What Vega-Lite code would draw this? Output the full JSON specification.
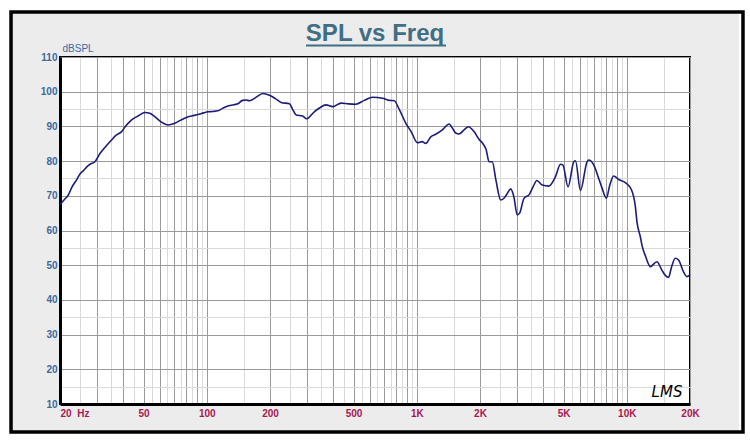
{
  "$schema": "https://vega.github.io/schema/vega-lite/v6.json",
  "width": 630,
  "height": 347,
  "autosize": {"type": "none"},
  "padding": {"left": 60, "top": 57, "right": 60, "bottom": 40},
  "background": "#ececec",
  "config": {"view": {"fill": "white", "stroke": "black", "strokeWidth": 2}},
  "datasets": {
    "spl": [
      {"freq": 20, "spl": 67.5}, {"freq": 20.9, "spl": 68.8}, {"freq": 21.9, "spl": 70.2}, {"freq": 22.8, "spl": 72.5},
      {"freq": 24.0, "spl": 74.6}, {"freq": 24.9, "spl": 76.3}, {"freq": 25.8, "spl": 77.2}, {"freq": 26.9, "spl": 78.4},
      {"freq": 27.8, "spl": 79.1}, {"freq": 29.3, "spl": 79.8}, {"freq": 31.0, "spl": 82.2}, {"freq": 33.1, "spl": 84.3},
      {"freq": 35.2, "spl": 86.1}, {"freq": 36.9, "spl": 87.4}, {"freq": 39.3, "spl": 88.5}, {"freq": 41.2, "spl": 90.2},
      {"freq": 43.0, "spl": 91.4}, {"freq": 44.9, "spl": 92.3}, {"freq": 47.1, "spl": 93.0}, {"freq": 50.7, "spl": 94.0},
      {"freq": 53.5, "spl": 93.8}, {"freq": 56.5, "spl": 92.8}, {"freq": 58.6, "spl": 92.0}, {"freq": 61.7, "spl": 91.0},
      {"freq": 65.4, "spl": 90.4}, {"freq": 70.4, "spl": 90.9}, {"freq": 75.1, "spl": 91.8}, {"freq": 80.0, "spl": 92.6},
      {"freq": 84.8, "spl": 93.0}, {"freq": 90.8, "spl": 93.4}, {"freq": 96.6, "spl": 93.9}, {"freq": 101.3, "spl": 94.2},
      {"freq": 106.6, "spl": 94.3}, {"freq": 113, "spl": 94.5}, {"freq": 118.9, "spl": 95.2}, {"freq": 126, "spl": 95.9},
      {"freq": 140.6, "spl": 96.5}, {"freq": 148, "spl": 97.5}, {"freq": 154, "spl": 97.6}, {"freq": 159.8, "spl": 97.4},
      {"freq": 170.7, "spl": 98.3}, {"freq": 184.9, "spl": 99.5}, {"freq": 198.9, "spl": 99.0}, {"freq": 212.4, "spl": 98.0},
      {"freq": 226, "spl": 96.9}, {"freq": 247.6, "spl": 96.5}, {"freq": 255.8, "spl": 95.0}, {"freq": 266.4, "spl": 93.3},
      {"freq": 286, "spl": 93.0}, {"freq": 299, "spl": 92.2}, {"freq": 325, "spl": 94.2}, {"freq": 344, "spl": 95.3},
      {"freq": 370, "spl": 96.2}, {"freq": 397.6, "spl": 95.7}, {"freq": 436, "spl": 96.7}, {"freq": 472, "spl": 96.5},
      {"freq": 513, "spl": 96.4}, {"freq": 562, "spl": 97.5}, {"freq": 616, "spl": 98.4}, {"freq": 687, "spl": 98.1},
      {"freq": 739, "spl": 97.5}, {"freq": 781, "spl": 97.4}, {"freq": 825, "spl": 94.9}, {"freq": 887, "spl": 90.9},
      {"freq": 940, "spl": 88.5}, {"freq": 1007, "spl": 85.3}, {"freq": 1061, "spl": 85.6}, {"freq": 1104, "spl": 85.1},
      {"freq": 1166, "spl": 87.0}, {"freq": 1236, "spl": 87.8}, {"freq": 1324, "spl": 89.0}, {"freq": 1425, "spl": 90.7},
      {"freq": 1477, "spl": 89.5}, {"freq": 1538, "spl": 88.0}, {"freq": 1589, "spl": 87.8}, {"freq": 1679, "spl": 89.0},
      {"freq": 1760, "spl": 89.9}, {"freq": 1873, "spl": 88.5}, {"freq": 1978, "spl": 86.3}, {"freq": 2066, "spl": 85.0},
      {"freq": 2142, "spl": 83.2}, {"freq": 2208, "spl": 79.8}, {"freq": 2288, "spl": 79.8}, {"freq": 2382, "spl": 74.5},
      {"freq": 2508, "spl": 68.8}, {"freq": 2600, "spl": 69.3}, {"freq": 2688, "spl": 70.5}, {"freq": 2798, "spl": 72.0},
      {"freq": 2900, "spl": 69.7}, {"freq": 3008, "spl": 64.5}, {"freq": 3088, "spl": 65.0}, {"freq": 3236, "spl": 69.2},
      {"freq": 3444, "spl": 70.5}, {"freq": 3572, "spl": 72.5}, {"freq": 3732, "spl": 74.4}, {"freq": 3954, "spl": 73.1},
      {"freq": 4254, "spl": 72.8}, {"freq": 4576, "spl": 75.5}, {"freq": 4834, "spl": 79.1}, {"freq": 4960, "spl": 78.9},
      {"freq": 5254, "spl": 72.6}, {"freq": 5592, "spl": 79.8}, {"freq": 5698, "spl": 80.1}, {"freq": 6018, "spl": 71.5},
      {"freq": 6468, "spl": 79.8}, {"freq": 6590, "spl": 80.3}, {"freq": 6958, "spl": 78.9}, {"freq": 7350, "spl": 75.0},
      {"freq": 7596, "spl": 72.5}, {"freq": 7998, "spl": 69.3}, {"freq": 8292, "spl": 73.0}, {"freq": 8662, "spl": 75.7},
      {"freq": 9150, "spl": 74.7}, {"freq": 9846, "spl": 73.8}, {"freq": 10514, "spl": 71.8}, {"freq": 10986, "spl": 66.9},
      {"freq": 11180, "spl": 62.5}, {"freq": 11602, "spl": 58.2}, {"freq": 11808, "spl": 55.8}, {"freq": 12296, "spl": 52.5},
      {"freq": 12942, "spl": 49.6}, {"freq": 13912, "spl": 51.0}, {"freq": 14690, "spl": 48.6}, {"freq": 15298, "spl": 47.0},
      {"freq": 15810, "spl": 46.5}, {"freq": 16336, "spl": 49.5}, {"freq": 17012, "spl": 52.0}, {"freq": 17640, "spl": 51.5},
      {"freq": 18630, "spl": 48.1}, {"freq": 19312, "spl": 46.7}, {"freq": 20000, "spl": 47.3}
    ]
  },
  "layer": [
    {
      "data": {"name": "spl"},
      "mark": {"type": "line", "color": "#1c1c7a", "strokeWidth": 1.6, "interpolate": "monotone"},
      "encoding": {
        "x": {
          "field": "freq", "type": "quantitative",
          "scale": {"type": "log", "domain": [20, 20000], "nice": false},
          "axis": {
            "values": [20, 30, 40, 50, 60, 70, 80, 90, 100, 200, 300, 400, 500, 600, 700, 800, 900, 1000, 2000, 3000, 4000, 5000, 6000, 7000, 8000, 9000, 10000, 20000],
            "labelExpr": "datum.value == 20 ? '20\u00a0\u00a0Hz' : (indexof([50, 100, 200, 500, 1000, 2000, 5000, 10000, 20000], datum.value) >= 0 ? (datum.value >= 1000 ? (datum.value / 1000) + 'K' : '' + datum.value) : '')",
            "title": null,
            "grid": true, "gridColor": "#9a9a9a", "gridOpacity": 1, "gridWidth": 1,
            "ticks": false,
            "domain": true, "domainColor": "black", "domainWidth": 3,
            "labelFont": "Liberation Sans", "labelFontSize": 10, "labelFontWeight": "bold",
            "labelColor": "#a8174f", "labelPadding": 4, "labelOverlap": false, "labelFlush": false, "labelBound": false,
            "labelAlign": {"condition": {"test": "datum.value == 20", "value": "left"}, "value": "center"}
          }
        },
        "y": {
          "field": "spl", "type": "quantitative",
          "scale": {"domain": [10, 110], "nice": false, "zero": false},
          "axis": {
            "values": [10, 20, 30, 40, 50, 60, 70, 80, 90, 100, 110],
            "title": "dBSPL", "titleAngle": 0, "titleAlign": "left", "titleBaseline": "bottom",
            "titleX": 2, "titleY": -4, "titleFont": "Liberation Sans", "titleFontSize": 10,
            "titleFontWeight": "normal", "titleColor": "#3a6aa0",
            "grid": true, "gridColor": "#9a9a9a", "gridOpacity": 1, "gridWidth": 1,
            "ticks": false,
            "domain": true, "domainColor": "black", "domainWidth": 3,
            "labelFont": "Liberation Sans", "labelFontSize": 10, "labelFontWeight": "bold",
            "labelColor": "#3a6aa0", "labelPadding": 3
          }
        }
      }
    },
    {
      "data": {"values": [{}]},
      "layer": [
        {
          "mark": {"type": "rect", "filled": false, "color": "white", "strokeWidth": 22},
          "encoding": {
            "x": {
              "datum": 10.36, "type": "quantitative",
              "scale": {"type": "log", "domain": [20, 20000], "nice": false},
              "axis": {
                "orient": "top",
                "values": [25, 35, 45, 55, 65, 75, 85, 95, 150, 250, 350, 450, 550, 650, 750, 850, 950, 1500, 2500, 3500, 4500, 5500, 6500, 7500, 8500, 9500, 15000],
                "labels": false, "ticks": false, "domain": false, "title": null,
                "grid": true, "gridColor": "#dadada", "gridOpacity": 1, "gridWidth": 1
              }
            },
            "x2": {"datum": 38620},
            "y": {
              "datum": 126.43, "type": "quantitative",
              "scale": {"domain": [10, 110], "nice": false, "zero": false},
              "axis": {
                "orient": "right",
                "values": [15, 25, 35, 45, 55, 65, 75, 85, 95, 105],
                "labels": false, "ticks": false, "domain": false, "title": null,
                "grid": true, "gridColor": "#dadada", "gridOpacity": 1, "gridWidth": 1
              }
            },
            "y2": {"datum": -1.53}
          }
        },
        {
          "mark": {"type": "rect", "filled": false, "color": "black", "strokeWidth": 3.5},
          "encoding": {
            "x": {"datum": 11.69, "type": "quantitative"},
            "x2": {"datum": 35760},
            "y": {"datum": 122.97, "type": "quantitative"},
            "y2": {"datum": 1.93}
          }
        },
        {
          "mark": {"type": "text", "text": "SPL vs Freq", "font": "Liberation Sans", "fontSize": 24, "fontWeight": "bold", "color": "#3f6e85", "align": "center", "baseline": "alphabetic"},
          "encoding": {
            "x": {"datum": 632.5, "type": "quantitative"},
            "y": {"datum": 114.6, "type": "quantitative"}
          }
        },
        {
          "mark": {"type": "rule", "color": "#3f6e85", "strokeWidth": 2},
          "encoding": {
            "x": {"datum": 296.8, "type": "quantitative"},
            "x2": {"datum": 1378},
            "y": {"datum": 113.3, "type": "quantitative"}
          }
        },
        {
          "mark": {"type": "text", "text": "LMS", "font": "DejaVu Sans", "fontStyle": "italic", "fontSize": 15, "color": "black", "align": "center", "baseline": "middle"},
          "encoding": {
            "x": {"datum": 15540, "type": "quantitative"},
            "y": {"datum": 13.5, "type": "quantitative"}
          }
        }
      ]
    }
  ],
  "resolve": {"axis": {"x": "independent", "y": "independent"}}
}
